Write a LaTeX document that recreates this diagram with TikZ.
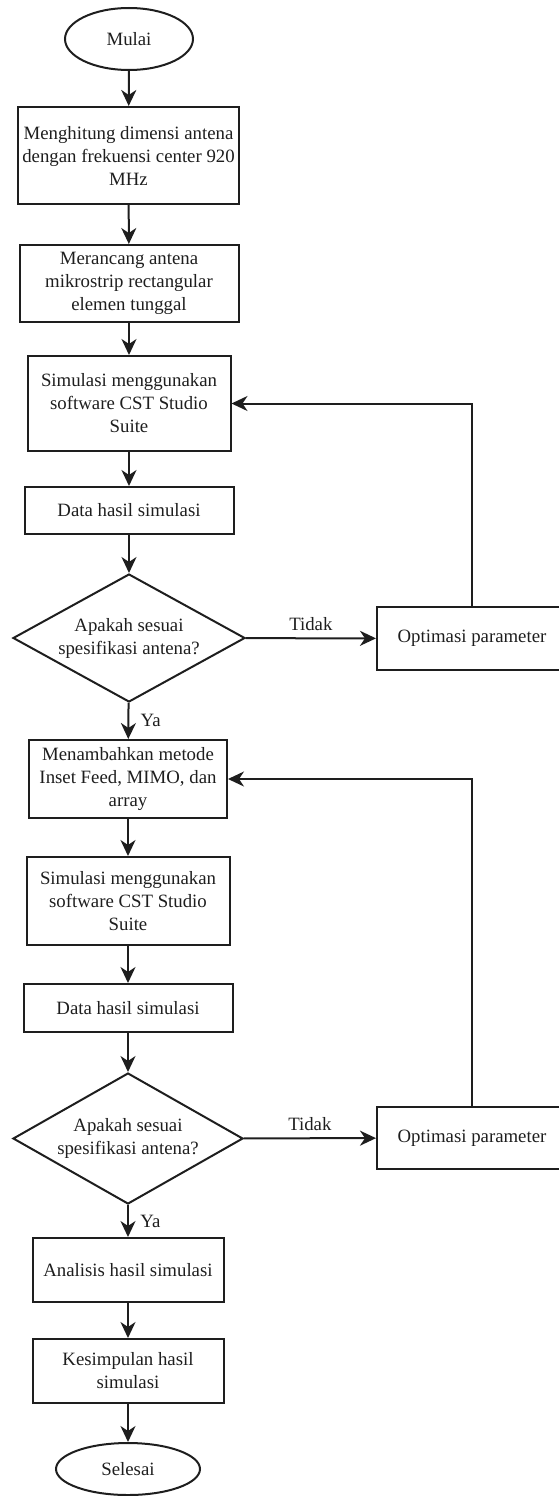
\documentclass[tikz,border=0pt]{standalone}
\usepackage{fontspec}
\setmainfont{Liberation Serif}
\usetikzlibrary{shapes.geometric,arrows.meta}

\definecolor{garis}{HTML}{1E1E1E}

\begin{document}
\begin{tikzpicture}[x=1pt,y=-1pt,line width=2pt,draw=garis,text=garis,
	font=\fontsize{18.8}{23}\selectfont,
	kotak/.style={draw,rectangle,align=center,inner sep=0pt},
	oval/.style={draw,ellipse,inner sep=0pt,minimum width=128,minimum height=62},
	cek/.style={draw,diamond,align=center,inner sep=0pt,aspect=1.8},
	panah/.style={-{Stealth[length=16pt,width=15pt,inset=5pt]}}]
	\useasboundingbox (0,0) rectangle (558,1496);
	%awal
	\node[oval] (mulai) at (129,39) {Mulai};
	\node[kotak,minimum width=221,minimum height=97] (hitung) at (128.5,155.5) {Menghitung dimensi antena\\dengan frekuensi center 920\\MHz};
	\node[kotak,minimum width=219,minimum height=77] (rancang) at (129,283.5) {Merancang antena\\mikrostrip rectangular\\elemen tunggal};
	\node[kotak,minimum width=203,minimum height=95] (simA) at (129,403.5) {Simulasi menggunakan\\software CST Studio\\Suite};
	\node[kotak,minimum width=209,minimum height=47] (dataA) at (129,510.5) {Data hasil simulasi};
	\node[cek,minimum width=232,minimum height=128] (cekA) at (129,638) {Apakah sesuai\\spesifikasi antena?};
	\node[kotak,minimum width=190,minimum height=63] (optA) at (472,638.5) {Optimasi parameter};
	%tahap kedua
	\node[kotak,minimum width=198,minimum height=78] (tambah) at (128,779) {Menambahkan metode\\Inset Feed, MIMO, dan\\array};
	\node[kotak,minimum width=203,minimum height=88] (simB) at (128,901) {Simulasi menggunakan\\software CST Studio\\Suite};
	\node[kotak,minimum width=209,minimum height=48] (dataB) at (128,1008) {Data hasil simulasi};
	\node[cek,minimum width=230,minimum height=131] (cekB) at (128,1138.5) {Apakah sesuai\\spesifikasi antena?};
	\node[kotak,minimum width=190,minimum height=62] (optB) at (472,1138) {Optimasi parameter};
	%akhir
	\node[kotak,minimum width=191,minimum height=64] (analisis) at (128,1270) {Analisis hasil simulasi};
	\node[kotak,minimum width=191,minimum height=64] (simpul) at (128,1371) {Kesimpulan hasil\\simulasi};
	\node[oval,minimum width=144,minimum height=52] (selesai) at (128,1469) {Selesai};

	%panah
	\draw[panah] (mulai) -- (hitung);
	\draw[panah] (hitung) -- (rancang);
	\draw[panah] (rancang) -- (simA);
	\draw[panah] (simA) -- (dataA);
	\draw[panah] (dataA) -- (cekA);
	\draw[panah] (cekA) -- node[above=3pt] (tidakA) {Tidak} (optA);
	\draw[panah] (optA.north) -- (optA.north |- simA.east) -- (simA.east);
	\draw[panah] (cekA) -- node[right=8pt] (yaA) {Ya} (tambah);
	\draw[panah] (tambah) -- (simB);
	\draw[panah] (simB) -- (dataB);
	\draw[panah] (dataB) -- (cekB);
	\draw[panah] (cekB) -- node[above=3pt] (tidakB) {Tidak} (optB);
	\draw[panah] (optB.north) -- (optB.north |- tambah.east) -- (tambah.east);
	\draw[panah] (cekB) -- node[right=8pt] (yaB) {Ya} (analisis);
	\draw[panah] (analisis) -- (simpul);
	\draw[panah] (simpul) -- (selesai);
\end{tikzpicture}
\end{document}
